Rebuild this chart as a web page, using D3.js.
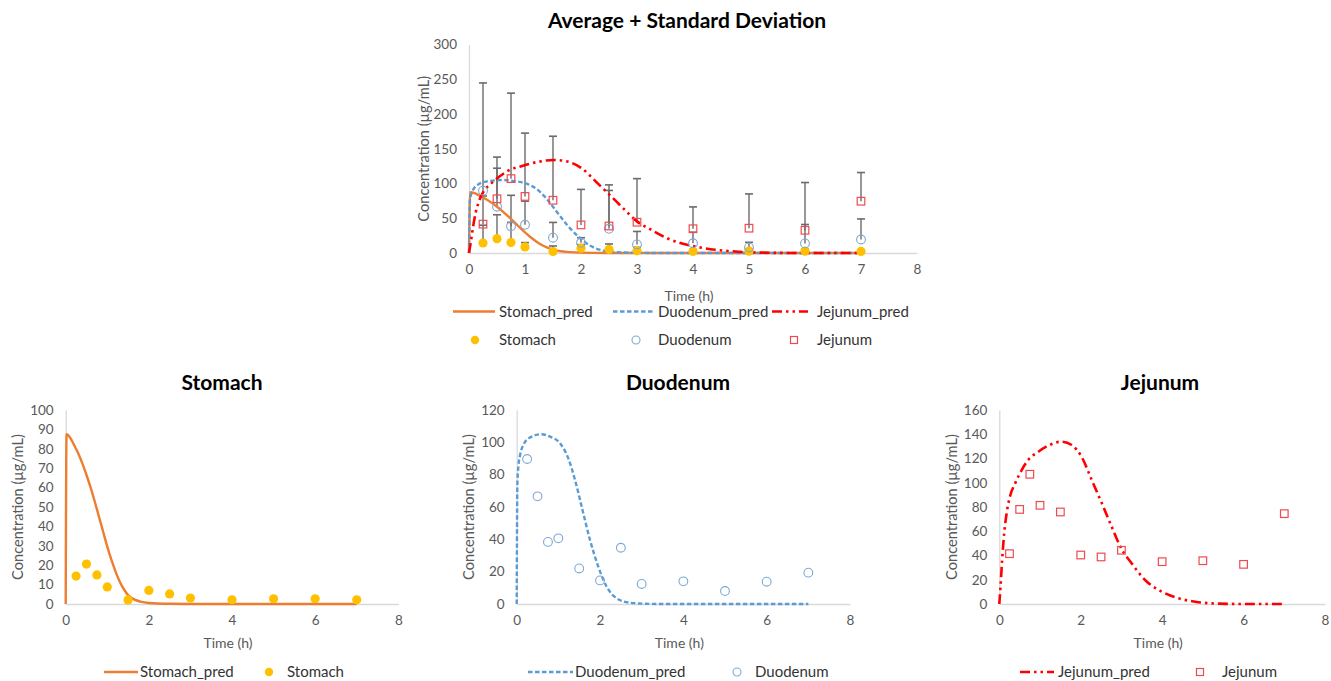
<!DOCTYPE html>
<html><head><meta charset="utf-8">
<script src="https://cdn.jsdelivr.net/npm/d3@7"></script>
<style>
body{margin:0;background:#fff;}
svg{display:block;font-family:Lato,"Open Sans",sans-serif;}
</style></head>
<body><svg id="c" width="1331" height="681"></svg>
<script>
// ---------------- DATA ----------------
const sampleTimes = [0.25, 0.5, 0.75, 1, 1.5, 2, 2.5, 3, 4, 5, 6, 7];
const stomachObs  = [14.4, 20.6, 15.0, 8.8, 2.1, 7.0, 5.2, 3.1, 2.2, 2.7, 2.7, 2.2];
const duodenumObs = [89.7, 66.6, 38.4, 40.6, 22.0, 14.6, 34.8, 12.4, 14.0, 8.0, 13.8, 19.4];
const jejunumObs  = [41.5, 78.0, 107.0, 81.4, 75.9, 40.4, 38.8, 44.3, 34.9, 35.7, 32.7, 74.5];

const stomachSD  = [25.6, 34.4, 29.0, 6.2, 8.0, 5.0, 7.8, 5.0, 3.0, 3.0, 3.0, 2.0];
const duodenumSD = [155.0, 55.4, 44.6, 34.0, 22.0, 7.4, 55.2, 18.6, 16.0, 7.4, 27.2, 29.6];
const jejunumSD  = [40.5, 60.0, 123.0, 91.1, 92.1, 51.1, 59.2, 62.7, 31.4, 49.3, 68.7, 41.3];

const stomachPredT = [0, 0.02, 0.1, 0.2, 0.3, 0.4, 0.5, 0.6, 0.7, 0.8, 0.9, 1.0, 1.1, 1.2, 1.3, 1.4, 1.5, 1.6, 1.8, 2.0, 2.5, 3, 4, 5, 6, 7];
const stomachPredV = [0, 87.5, 86, 82, 77.7, 72.5, 66.5, 60, 52.7, 45, 37.3, 29.6, 22.7, 16.7, 11.5, 7.6, 4.6, 2.9, 1.2, 0.5, 0.1, 0, 0, 0, 0, 0];

const duodenumPredT = [0, 0.016, 0.04, 0.08, 0.16, 0.32, 0.6, 0.8, 1.04, 1.24, 1.4, 1.56, 1.76, 1.96, 2.16, 2.4, 2.72, 3.04, 3.5, 4, 5, 6, 7];
const duodenumPredV = [0, 74.6, 85, 92, 98.4, 103, 105, 103.5, 99.4, 90, 76.7, 60.2, 39.6, 23, 10.7, 3.5, 0.8, 0.2, 0, 0, 0, 0, 0];

const jejunumPredT = [0, 0.03, 0.07, 0.12, 0.18, 0.26, 0.39, 0.55, 0.71, 0.96, 1.2, 1.53, 1.78, 2.02, 2.27, 2.52, 2.76, 3.0, 3.25, 3.58, 3.99, 4.4, 4.81, 5.22, 5.63, 6.12, 7];
const jejunumPredV = [0, 14.3, 36.3, 58.3, 74.8, 88.5, 99.5, 110.5, 118.8, 125.6, 130.6, 133.9, 131.1, 121.5, 102.3, 83, 63.8, 45.5, 33.6, 19.8, 10.2, 4.7, 1.9, 0.5, 0.1, 0, 0];

const xTicks = [0, 1, 2, 3, 4, 5, 6, 7, 8];
const xTicksBottom = [0, 2, 4, 6, 8];
const yTicksAvg = [0, 50, 100, 150, 200, 250, 300];
const yTicksStomach = [0, 10, 20, 30, 40, 50, 60, 70, 80, 90, 100];
const yTicksDuodenum = [0, 20, 40, 60, 80, 100, 120];
const yTicksJejunum = [0, 20, 40, 60, 80, 100, 120, 140, 160];

const titles = ["Average + Standard Deviation", "Stomach", "Duodenum", "Jejunum"];
const xTitle = "Time (h)";
const yTitle = "Concentration (µg/mL)";
const names = {sp:"Stomach_pred", dp:"Duodenum_pred", jp:"Jejunum_pred", s:"Stomach", d:"Duodenum", j:"Jejunum"};

// ---------------- STYLE ----------------
const C = {
  orange:"#ED7D31", gold:"#FFC000", blue:"#5B9BD5", circ:"#7FA8D3",
  red:"#FF0000", sq:"#EE4B50", axis:"#D9D9D9", text:"#595959", err:"#6B6B6B"
};
const DASH_D = "4.5,2.5";
const DASH_J = "10,4,2.5,4,2.5,4";

const svg = d3.select("#c");

function zipPts(t, v){ return t.map((d,i)=>[d, v[i]]); }

function chart(opt){
  const g = svg.append("g");
  const x = d3.scaleLinear().domain([0,8]).range([opt.x0, opt.x1]);
  const y = d3.scaleLinear().domain([0, opt.ymax]).range([opt.y0, opt.y1]);

  const ax = g.append("g").attr("transform",`translate(0,${opt.y0})`)
    .call(d3.axisBottom(x).tickValues(opt.xt).tickSize(0).tickPadding(opt.xpad).tickFormat(d3.format("d")));
  const ay = g.append("g").attr("transform",`translate(${opt.x0},0)`)
    .call(d3.axisLeft(y).tickValues(opt.yt).tickSize(0).tickPadding(opt.ypad).tickFormat(d3.format("d")));
  [ax, ay].forEach(a=>{
    a.select(".domain").attr("stroke", C.axis).attr("stroke-width", 1.3);
    a.selectAll("text").attr("fill", C.text).style("font-size", "13.5px").style("font-family","Lato");
  });

  g.append("text").attr("x", opt.tx).attr("y", opt.ty).attr("text-anchor","middle")
    .style("font-size","21px").style("font-weight","bold").attr("fill","#000").text(opt.title);
  g.append("text").attr("x", (opt.x0+opt.x1)/2 - 4).attr("y", opt.y0 + opt.xtitleOff)
    .attr("text-anchor","middle").style("font-size","14px").attr("fill", C.text).text(xTitle);
  g.append("text").attr("transform",`translate(${opt.ytx},${(opt.y0+opt.y1)/2}) rotate(-90)`)
    .attr("text-anchor","middle").attr("dy","0.35em").style("font-size","14.6px").attr("fill", C.text).text(yTitle);

  const line = d3.line().x(d=>x(d[0])).y(d=>y(d[1])).curve(d3.curveMonotoneX);

  if (opt.err){
    opt.err.forEach(e=>{
      sampleTimes.forEach((t,i)=>{
        const m = e.mean[i], s = e.sd[i];
        g.append("line").attr("x1",x(t)).attr("x2",x(t)).attr("y1",y(m)).attr("y2",y(m+s))
          .attr("stroke",C.err).attr("stroke-width",1.4);
        g.append("line").attr("x1",x(t)-4).attr("x2",x(t)+4).attr("y1",y(m+s)).attr("y2",y(m+s))
          .attr("stroke",C.err).attr("stroke-width",1.6);
      });
    });
  }

  opt.lines.forEach(L=>{
    g.append("path").datum(zipPts(L.t, L.v)).attr("d", line).attr("fill","none")
      .attr("stroke", L.color).attr("stroke-width", L.w).attr("stroke-dasharray", L.dash || null);
  });

  opt.points.forEach(P=>{
    const pts = zipPts(sampleTimes, P.v);
    if (P.type==="dot"){
      g.selectAll(null).data(pts).join("circle").attr("cx",d=>x(d[0])).attr("cy",d=>y(d[1]))
        .attr("r",4.6).attr("fill",C.gold);
    } else if (P.type==="circle"){
      g.selectAll(null).data(pts).join("circle").attr("cx",d=>x(d[0])).attr("cy",d=>y(d[1]))
        .attr("r",4.4).attr("fill","none").attr("stroke",C.circ).attr("stroke-width",1.1);
    } else {
      g.selectAll(null).data(pts).join("rect").attr("x",d=>x(d[0])-3.8).attr("y",d=>y(d[1])-3.8)
        .attr("width",7.6).attr("height",7.6).attr("fill","none").attr("stroke",C.sq).attr("stroke-width",1.2);
    }
  });
  return g;
}

function legendLine(lx0, lx1, ly, color, dash){
  svg.append("line").attr("x1",lx0).attr("x2",lx1).attr("y1",ly).attr("y2",ly)
    .attr("stroke",color).attr("stroke-width",2.5).attr("stroke-dasharray",dash||null);
}
function legendSym(type, cx, cy){
  if (type==="dot") svg.append("circle").attr("cx",cx).attr("cy",cy).attr("r",4.2).attr("fill",C.gold);
  else if (type==="circle") svg.append("circle").attr("cx",cx).attr("cy",cy).attr("r",4).attr("fill","none").attr("stroke",C.circ).attr("stroke-width",1.1);
  else svg.append("rect").attr("x",cx-3.5).attr("y",cy-3.5).attr("width",7).attr("height",7).attr("fill","none").attr("stroke",C.sq).attr("stroke-width",1.2);
}
function legendText(tx, ty, s){
  svg.append("text").attr("x",tx).attr("y",ty).attr("dy","0.35em").style("font-size","15px").attr("fill","#333").text(s);
}

const predS = {t:stomachPredT, v:stomachPredV, color:C.orange, w:2.4};
const predD = {t:duodenumPredT, v:duodenumPredV, color:C.blue, w:2.4, dash:DASH_D};
const predJ = {t:jejunumPredT, v:jejunumPredV, color:C.red, w:2.6, dash:DASH_J};

// ---------- Top chart ----------
chart({x0:469, x1:917, y0:253, y1:44.5, ymax:300, xt:xTicks, yt:yTicksAvg, xpad:11, ypad:12,
  title:titles[0], tx:687, ty:28, xtitleOff:48, ytx:424,
  err:[{mean:stomachObs, sd:stomachSD},{mean:duodenumObs, sd:duodenumSD},{mean:jejunumObs, sd:jejunumSD}],
  lines:[predS, predD, predJ],
  points:[{type:"dot",v:stomachObs},{type:"circle",v:duodenumObs},{type:"square",v:jejunumObs}]
});
legendLine(453,495,311.5,C.orange); legendText(499,311.5,names.sp);
legendLine(613,654,311.5,C.blue,DASH_D); legendText(658,311.5,names.dp);
legendLine(772,808,311.5,C.red,DASH_J); legendText(817,311.5,names.jp);
legendSym("dot",475,340); legendText(499,340,names.s);
legendSym("circle",636,340); legendText(658,340,names.d);
legendSym("square",794,340); legendText(817,340,names.j);

// ---------- Bottom charts ----------
chart({x0:65.7, x1:398.3, y0:604, y1:410, ymax:100, xt:xTicksBottom, yt:yTicksStomach, xpad:11, ypad:12,
  title:titles[1], tx:222, ty:390, xtitleOff:44, ytx:18,
  lines:[predS], points:[{type:"dot",v:stomachObs}]});
legendLine(104,138,672,C.orange); legendText(140,672,names.sp);
legendSym("dot",269,672); legendText(287,672,names.s);

chart({x0:516.7, x1:850, y0:604, y1:410, ymax:120, xt:xTicksBottom, yt:yTicksDuodenum, xpad:11, ypad:12,
  title:titles[2], tx:678, ty:390, xtitleOff:44, ytx:469,
  lines:[predD], points:[{type:"circle",v:duodenumObs}]});
legendLine(528,573,672,C.blue,DASH_D); legendText(575,672,names.dp);
legendSym("circle",737,672); legendText(755,672,names.d);

chart({x0:999.3, x1:1325, y0:604, y1:410, ymax:160, xt:xTicksBottom, yt:yTicksJejunum, xpad:11, ypad:12,
  title:titles[3], tx:1160, ty:390, xtitleOff:44, ytx:952,
  lines:[predJ], points:[{type:"square",v:jejunumObs}]});
legendLine(1020,1054,672,C.red,DASH_J); legendText(1058,672,names.jp);
legendSym("square",1200,672); legendText(1222,672,names.j);
</script>
</body></html>
